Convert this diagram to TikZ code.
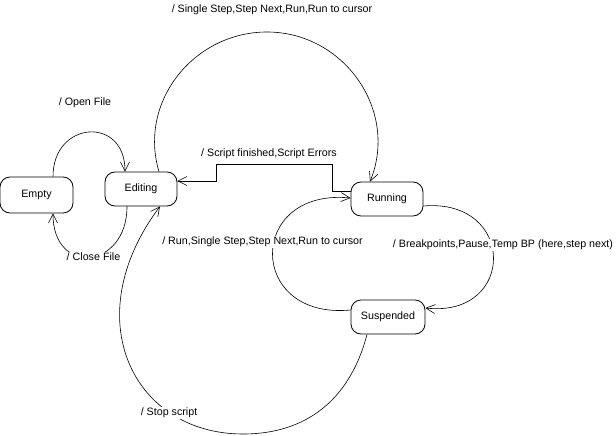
\documentclass[tikz,border=0pt]{standalone}
\usepackage{fontspec}
\setmainfont{Liberation Sans}
\usetikzlibrary{arrows.meta}
\tikzset{
  state/.style={draw, line width=0.8pt, rounded corners=10pt, minimum width=72pt, minimum height=34pt, inner sep=0pt},
  trans/.style={draw, line width=0.6pt, -{Straight Barb[length=9pt,width=9pt]}},
  lbl/.style={fill=white, inner sep=1pt},
}
\begin{document}
\begin{tikzpicture}[x=1pt, y=-1pt, font=\fontsize{10.7}{12}\selectfont]
\useasboundingbox (0,0) rectangle (616,436);
\node[state, minimum width=73pt, minimum height=36pt] (empty) at (36.5,195) {Empty};
\node[state] (editing) at (141,189) {Editing};
\node[state] (running) at (387,199) {Running};
\node[state, minimum width=74pt] (suspended) at (388,317) {Suspended};

\draw[trans] ([xshift=16.5pt]empty.north) .. controls +(0,-56) and +(0,-56) .. ([xshift=-16pt]editing.north);
\draw[trans] ([xshift=-14pt]editing.south) .. controls +(0,63) and +(0,63) .. ([xshift=16.5pt]empty.south);
\draw[trans] ([xshift=18pt]editing.north) .. controls +(-21,-70) and +(-73,0) .. (267,32)
  .. controls +(77,0) and +(29,-71) .. ([xshift=-17pt]running.north);
\draw[trans] ([yshift=8pt]running.west) -- ++(-18,0) -- ++(0,-27) -- ++(-116,0) |- ([yshift=8pt]editing.east);
\draw[trans] ([yshift=7pt]suspended.west) .. controls +(-104,10) and +(-104,-10) .. ([yshift=1pt]running.west);
\draw[trans] ([yshift=-7pt]running.east) .. controls +(93,-8) and +(91,10) .. ([yshift=9pt]suspended.east);
\draw[trans] ([xshift=-21pt]suspended.south) .. controls +(-15,58) and +(70,0) .. (243,434)
  .. controls +(-110,0) and +(-84,112) .. ([xshift=19pt]editing.south);

\node[lbl] (lopen) at (85,103) {/ Open File};
\node[lbl] (lclose) at (93.5,257) {/ Close File};
\node[lbl] (lstep) at (272,10) {/ Single Step,Step Next,Run,Run to cursor};
\node[lbl] (lscript) at (269,154) {/ Script finished,Script Errors};
\node[lbl] (lrun) at (262.5,242) {/ Run,Single Step,Step Next,Run to cursor};
\node[lbl] (lbreak) at (503,245) {/ Breakpoints,Pause,Temp BP (here,step next)};
\node[lbl] (lstop) at (169,413) {/ Stop script};
\end{tikzpicture}
\end{document}
